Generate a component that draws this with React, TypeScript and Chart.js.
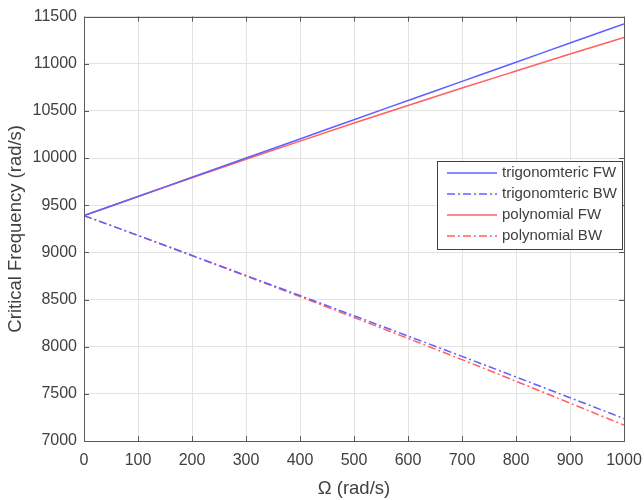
import React, { useEffect, useRef } from "react";
import { Chart, registerables } from "chart.js";

Chart.register(...registerables);

const omega = [0, 100, 200, 300, 400, 500, 600, 700, 800, 900, 1000];
const trigFW = [9390, 9593, 9797, 10000, 10203, 10407, 10610, 10813, 11016, 11220, 11423];
const trigBW = [9390, 9180, 8968, 8755, 8542, 8328, 8113, 7897, 7679, 7459, 7238];
const polyFW = [9390, 9592, 9791, 9987, 10180, 10371, 10558, 10742, 10923, 11103, 11278];
const polyBW = [9390, 9179, 8965, 8749, 8531, 8310, 8088, 7863, 7634, 7402, 7168];
const seriesLabels = ["trigonomteric FW", "trigonomteric BW", "polynomial FW", "polynomial BW"];

const BLUE = "rgb(96,96,255)";
const RED = "rgb(255,96,96)";
const DASHDOT = [8, 3, 2, 3];
const FONT = "'Liberation Sans', Arial, sans-serif";
const TEXT = "#404040";

const boxPlugin = {
  id: "boxTicks",
  afterDraw(chart: any) {
    const { ctx, chartArea } = chart;
    const { left, right, top, bottom } = chartArea;
    const xs = chart.scales.x;
    const ys = chart.scales.y;
    ctx.save();
    ctx.strokeStyle = "#5a5a5a";
    ctx.lineWidth = 1;
    ctx.setLineDash([]);
    ctx.strokeRect(Math.round(left) + 0.5, Math.round(top) + 0.5, Math.round(right - left), Math.round(bottom - top));
    const tl = 5;
    ctx.beginPath();
    xs.ticks.forEach((t: any) => {
      const px = Math.round(xs.getPixelForValue(t.value)) + 0.5;
      ctx.moveTo(px, bottom);
      ctx.lineTo(px, bottom - tl);
      ctx.moveTo(px, top);
      ctx.lineTo(px, top + tl);
    });
    ys.ticks.forEach((t: any) => {
      const py = Math.round(ys.getPixelForValue(t.value)) + 0.5;
      ctx.moveTo(left, py);
      ctx.lineTo(left + tl, py);
      ctx.moveTo(right, py);
      ctx.lineTo(right - tl, py);
    });
    ctx.stroke();

    // legend box
    const bx = 437, by = 161, bw = 185, bh = 88;
    ctx.fillStyle = "#ffffff";
    ctx.fillRect(bx, by, bw, bh);
    ctx.strokeStyle = "#404040";
    ctx.strokeRect(bx + 0.5, by + 0.5, bw, bh);
    ctx.font = "15px " + FONT;
    ctx.textBaseline = "middle";
    ctx.textAlign = "left";
    chart.data.datasets.forEach((ds: any, i: number) => {
      const y = by + 12 + i * 21;
      ctx.strokeStyle = ds.borderColor;
      ctx.lineWidth = 1.5;
      ctx.setLineDash(ds.borderDash || []);
      ctx.beginPath();
      ctx.moveTo(bx + 10, y);
      ctx.lineTo(bx + 60, y);
      ctx.stroke();
      ctx.setLineDash([]);
      ctx.fillStyle = TEXT;
      ctx.fillText(ds.label, bx + 65, y);
    });
    ctx.restore();
  },
};

export default function App() {
  const ref = useRef<HTMLCanvasElement>(null);
  useEffect(() => {
    if (!ref.current) return;
    const mk = (arr: number[]) => omega.map((x, i) => ({ x, y: arr[i] }));
    const chart = new Chart(ref.current, {
      type: "line",
      data: {
        datasets: [
          { label: seriesLabels[0], data: mk(trigFW), borderColor: BLUE, borderWidth: 1.5, pointRadius: 0, fill: false },
          { label: seriesLabels[1], data: mk(trigBW), borderColor: BLUE, borderWidth: 1.5, pointRadius: 0, borderDash: DASHDOT, fill: false },
          { label: seriesLabels[2], data: mk(polyFW), borderColor: RED, borderWidth: 1.5, pointRadius: 0, fill: false },
          { label: seriesLabels[3], data: mk(polyBW), borderColor: RED, borderWidth: 1.5, pointRadius: 0, borderDash: DASHDOT, fill: false },
        ],
      },
      options: {
        responsive: false,
        animation: false,
        cubicInterpolationMode: "monotone",
        layout: { padding: { top: 15, right: 20, left: 0, bottom: 0 } },
        plugins: { legend: { display: false }, tooltip: { enabled: false } },
        scales: {
          x: {
            type: "linear",
            min: 0,
            max: 1000,
            ticks: { stepSize: 100, color: TEXT, font: { family: FONT, size: 16 }, padding: 10, maxRotation: 0, callback: (v: any) => String(v) },
            grid: { color: "#e3e3e3", drawTicks: false },
            border: { display: false },
            title: { display: true, text: "Ω (rad/s)", color: TEXT, font: { family: FONT, size: 18.5 }, padding: { top: 0, bottom: 0 } },
            afterFit: (s: any) => { s.height = 59; s.paddingRight = 0; },
          },
          y: {
            type: "linear",
            min: 7000,
            max: 11500,
            ticks: { stepSize: 500, color: TEXT, font: { family: FONT, size: 16 }, padding: 7, callback: (v: any) => String(v) },
            grid: { color: "#e3e3e3", drawTicks: false },
            border: { display: false },
            title: { display: true, text: "Critical Frequency (rad/s)", color: TEXT, font: { family: FONT, size: 18.5 }, padding: { top: 5, bottom: 0 } },
            afterFit: (s: any) => { s.width = 84; },
          },
        },
      } as any,
      plugins: [boxPlugin],
    });
    return () => chart.destroy();
  }, []);
  return (
    <div style={{ position: "absolute", left: 0, top: 0, width: 644, height: 500, background: "#fff" }}>
      <canvas ref={ref} width={644} height={500} style={{ width: 644, height: 500 }} />
    </div>
  );
}
